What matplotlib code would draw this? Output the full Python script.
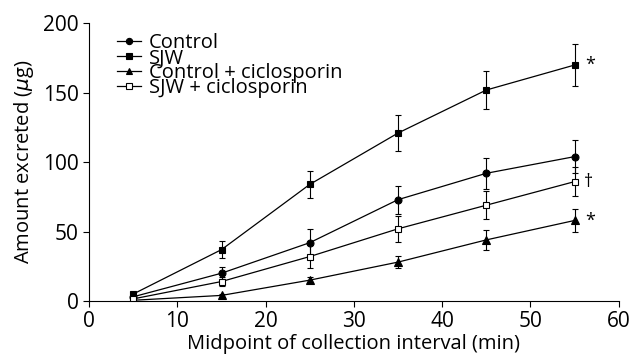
import numpy as np
import matplotlib
matplotlib.use("Agg")
import matplotlib.pyplot as plt
from matplotlib.lines import Line2D

plt.rcParams['font.family'] = ['Open Sans', 'DejaVu Sans']
plt.rcParams['mathtext.fontset'] = 'dejavusans'

minutes = [5, 15, 25, 35, 45, 55]

control = [3, 20, 42, 73, 92, 104]
control_err = [1, 4.5, 10, 10, 11, 12]
sjw = [5, 37, 84, 121, 152, 170]
sjw_err = [1, 6, 10, 13, 14, 15]
control_cic = [0.5, 4, 15, 28, 44, 58]
control_cic_err = [0.5, 1, 2, 4.5, 7, 8.5]
sjw_cic = [1.5, 14, 32, 52, 69, 86]
sjw_cic_err = [1, 3, 8, 9.5, 10, 10.5]

labels = ['Control', 'SJW', 'Control + ciclosporin', 'SJW + ciclosporin']

fig = plt.figure(figsize=(6.32, 3.6), dpi=100)
ax = fig.add_axes([0.141, 0.164, 0.838, 0.771])

series = [
    (control, control_err, 'o', 'black', 5),
    (sjw, sjw_err, 's', 'black', 5),
    (control_cic, control_cic_err, '^', 'black', 5.5),
    (sjw_cic, sjw_cic_err, 's', 'white', 5),
]

handles = []
for (vals, errs, m, fc, ms), lab in zip(series, labels):
    ax.errorbar(minutes, vals, yerr=errs, color='black', lw=0.9,
                marker=m, markersize=ms,
                markerfacecolor=fc, markeredgecolor='black', markeredgewidth=0.8,
                elinewidth=0.8, capsize=2, capthick=0.8)
    handles.append(Line2D([], [], color='black', lw=0.9, marker=m, markersize=ms - 0.5,
                          markerfacecolor=fc, markeredgecolor='black',
                          markeredgewidth=0.8, label=lab))

# significance marks beside last points
ax.text(56.2, sjw[-1], '*', fontsize=13, va='center', ha='left')
ax.text(56.2, control_cic[-1], '*', fontsize=13, va='center', ha='left')
ax.text(56.0, sjw_cic[-1], '\u2020', fontsize=13, va='center', ha='left')

ax.set_xlim(0, 60)
ax.set_ylim(0, 200)
ax.set_xticks([0, 10, 20, 30, 40, 50, 60])
ax.set_yticks([0, 50, 100, 150, 200])
ax.spines['top'].set_visible(False)
ax.spines['right'].set_visible(False)
ax.tick_params(direction='out', length=4, width=0.8, labelsize=15)
ax.set_xlabel('Midpoint of collection interval (min)', fontsize=14.5, labelpad=1)
ax.set_ylabel('Amount excreted ($\\mu$g)', fontsize=14.5, labelpad=5)

ax.legend(handles=handles, loc='upper left', bbox_to_anchor=(0.052, 0.964),
          frameon=False, fontsize=14.5, handlelength=1.2, handletextpad=0.4,
          labelspacing=-0.25, borderpad=0, borderaxespad=0)

fig.savefig('out.png', dpi=100)
